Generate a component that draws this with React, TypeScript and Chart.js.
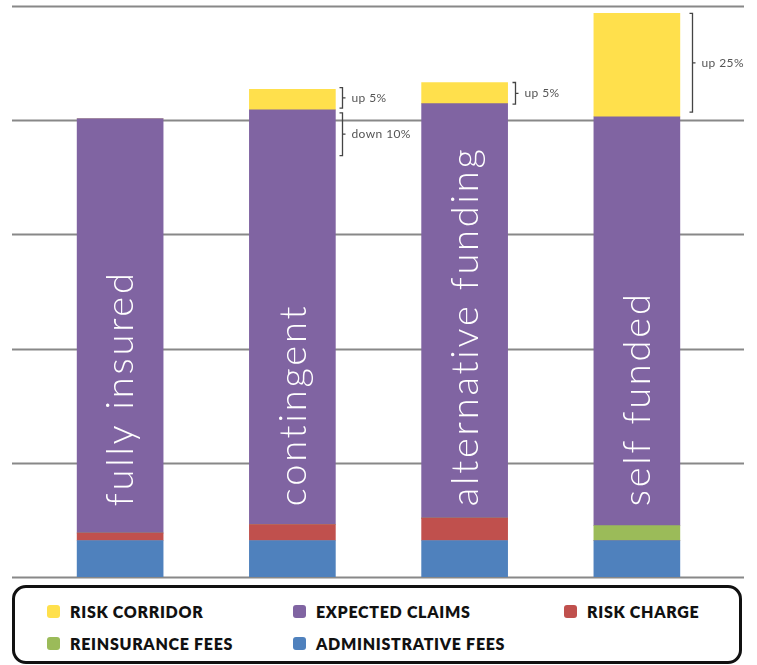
import React, { useEffect, useRef } from "react";
import { Chart, registerables } from "chart.js";

Chart.register(...registerables);

const categories = ["fully insured", "contingent", "alternative funding", "self funded"];
const administrativeFees = [6.4, 6.4, 6.4, 6.4];
const riskCharge = [1.3, 2.8, 3.9, 0];
const reinsuranceFees = [0, 0, 0, 2.6];
const expectedClaims = [72.6, 72.6, 72.6, 71.6];
const riskCorridor = [0, 3.6, 3.7, 18.1];

const yTicks = [0, 20, 40, 60, 80, 100];

// annotations: category index, value range, text
const annotationIndex = [1, 1, 2, 3];
const annotationFrom = [82.1, 73.8, 82.8, 81.4];
const annotationTo = [85.7, 81.3, 86.6, 98.7];
const annotationText = ["up 5%", "down 10%", "up 5%", "up 25%"];
const annotationGap = [7, 7, 7, 12];

const COLORS = {
  corridor: "#FFE04C",
  expected: "#8064A2",
  charge: "#C0504D",
  reins: "#9BBB59",
  admin: "#4F81BD",
};

const legendItems = [
  { label: "RISK CORRIDOR", color: COLORS.corridor },
  { label: "EXPECTED CLAIMS", color: COLORS.expected },
  { label: "RISK CHARGE", color: COLORS.charge },
  { label: "REINSURANCE FEES", color: COLORS.reins },
  { label: "ADMINISTRATIVE FEES", color: COLORS.admin },
];

const LABEL_BASE_VALUE = 12.4;

const decorPlugin = {
  id: "decor",
  beforeDatasetsDraw(chart: any) {
    const { ctx, chartArea, scales } = chart;
    const y = scales.y;
    ctx.save();
    ctx.strokeStyle = "#888888";
    ctx.lineWidth = 2;
    yTicks.forEach((t) => {
      const py = Math.round(y.getPixelForValue(t)) + 0.5;
      ctx.beginPath();
      ctx.moveTo(chartArea.left - 22, py);
      ctx.lineTo(chartArea.right + 21, py);
      ctx.stroke();
    });
    ctx.restore();
  },
  afterDatasetsDraw(chart: any) {
    const { ctx, scales } = chart;
    const x = scales.x;
    const y = scales.y;
    const meta = chart.getDatasetMeta(0);
    // rotated category labels
    ctx.save();
    ctx.fillStyle = "#ffffff";
    ctx.font = "300 38px Lato, 'Open Sans', sans-serif";
    (ctx as any).letterSpacing = "2.8px";
    ctx.textAlign = "left";
    ctx.textBaseline = "middle";
    categories.forEach((c, i) => {
      const cx = x.getPixelForValue(i);
      const by = y.getPixelForValue(LABEL_BASE_VALUE);
      ctx.save();
      ctx.translate(cx, by);
      ctx.rotate(-Math.PI / 2);
      ctx.fillText(c, 0, 1);
      ctx.restore();
    });
    ctx.restore();

    // brackets
    ctx.save();
    ctx.strokeStyle = "#444444";
    ctx.lineWidth = 1.3;
    ctx.fillStyle = "#555555";
    ctx.font = "400 12px Lato, 'Open Sans', sans-serif";
    (ctx as any).letterSpacing = "0.4px";
    ctx.textBaseline = "middle";
    ctx.textAlign = "left";
    annotationIndex.forEach((idx, k) => {
      const bar = meta.data[idx];
      const right = bar.x + bar.width / 2;
      const bx = Math.round(right + annotationGap[k]) + 0.5;
      const y1 = y.getPixelForValue(annotationTo[k]);
      const y2 = y.getPixelForValue(annotationFrom[k]);
      const ym = (y1 + y2) / 2;
      ctx.beginPath();
      ctx.moveTo(bx - 3, y1);
      ctx.lineTo(bx, y1);
      ctx.lineTo(bx, y2);
      ctx.lineTo(bx - 3, y2);
      ctx.moveTo(bx, ym);
      ctx.lineTo(bx + 3, ym);
      ctx.stroke();
      ctx.fillText(annotationText[k], bx + 9, ym);
    });
    ctx.restore();
  },
};

export default function App() {
  const canvasRef = useRef<HTMLCanvasElement | null>(null);

  useEffect(() => {
    document.body.style.margin = "0";
    const canvas = canvasRef.current;
    if (!canvas) return;
    const chart = new Chart(canvas, {
      type: "bar",
      data: {
        labels: categories,
        datasets: [
          { label: "Administrative Fees", data: administrativeFees, backgroundColor: COLORS.admin },
          { label: "Risk Charge", data: riskCharge, backgroundColor: COLORS.charge },
          { label: "Reinsurance Fees", data: reinsuranceFees, backgroundColor: COLORS.reins },
          { label: "Expected Claims", data: expectedClaims, backgroundColor: COLORS.expected },
          { label: "Risk Corridor", data: riskCorridor, backgroundColor: COLORS.corridor },
        ],
      },
      options: {
        responsive: false,
        animation: false,
        layout: { padding: { left: 34, right: 34, top: 6, bottom: 5 } },
        datasets: { bar: { barThickness: 86, borderWidth: 0 } },
        plugins: { legend: { display: false }, tooltip: { enabled: false } },
        scales: {
          x: { stacked: true, display: false },
          y: {
            stacked: true,
            display: false,
            min: 0,
            max: 100,
            afterBuildTicks: (s: any) => {
              s.ticks = yTicks.map((v) => ({ value: v }));
            },
          },
        },
      },
      plugins: [decorPlugin],
    });
    return () => chart.destroy();
  }, []);

  return (
    <div style={{ width: 757, height: 665, position: "relative", background: "#fff", overflow: "hidden" }}>
      <canvas ref={canvasRef} width={757} height={582} style={{ display: "block" }} />
      <div
        style={{
          position: "absolute",
          left: 12,
          top: 585,
          width: 730,
          height: 79,
          boxSizing: "border-box",
          border: "3px solid #111",
          borderRadius: 14,
          fontFamily: "Lato, 'Open Sans', sans-serif",
          fontWeight: 800,
          fontSize: 16,
          color: "#111",
        }}
      >
        {legendItems.map((it, i) => {
          const col = i % 3;
          const row = Math.floor(i / 3);
          const lefts = [32, 278, 549];
          return (
            <div
              key={it.label}
              style={{
                position: "absolute",
                left: lefts[col],
                top: 14 + row * 32,
                height: 18,
                display: "flex",
                alignItems: "center",
                whiteSpace: "nowrap",
              }}
            >
              <span
                style={{
                  display: "inline-block",
                  width: 13,
                  height: 13,
                  borderRadius: 3,
                  background: it.color,
                  marginRight: 10,
                }}
              />
              <span style={{ letterSpacing: 0.7 }}>{it.label}</span>
            </div>
          );
        })}
      </div>
    </div>
  );
}
